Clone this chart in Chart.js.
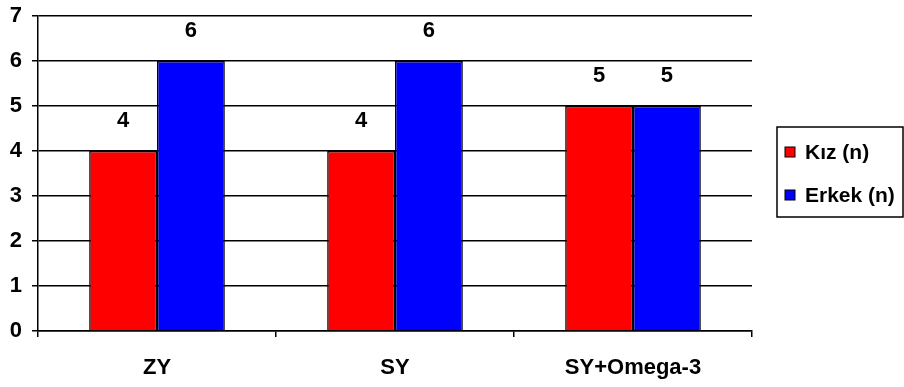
<!DOCTYPE html>
<html>
<head>
<meta charset="utf-8">
<script src="https://cdn.jsdelivr.net/npm/chart.js@4"></script>
<style>
  html, body { margin: 0; padding: 0; background: #fff; }
</style>
</head>
<body>
<canvas id="chart" width="904" height="387"></canvas>
<script>
const categories = ['ZY', 'SY', 'SY+Omega-3'];
const kizValues = [4, 4, 5];
const erkekValues = [6, 6, 5];
const yTicks = [0, 1, 2, 3, 4, 5, 6, 7];

const FONT = 'Liberation Sans, Arial, sans-serif';

// value labels above the bars
const valueLabels = {
  id: 'valueLabels',
  afterDatasetsDraw(chart) {
    const ctx = chart.ctx;
    ctx.save();
    ctx.font = 'bold 22px ' + FONT;
    ctx.fillStyle = '#000';
    ctx.textAlign = 'center';
    ctx.textBaseline = 'middle';
    chart.data.datasets.forEach((ds, i) => {
      chart.getDatasetMeta(i).data.forEach((bar, j) => {
        ctx.fillText(String(ds.data[j]), bar.x, bar.y - 30);
      });
    });
    ctx.restore();
  }
};

// boxed legend on the right
const boxLegend = {
  id: 'boxLegend',
  afterDraw(chart) {
    const ctx = chart.ctx;
    ctx.save();
    ctx.strokeStyle = '#000';
    ctx.lineWidth = 1.5;
    ctx.strokeRect(777, 127, 126, 90);
    ctx.font = 'bold 21px ' + FONT;
    ctx.textBaseline = 'middle';
    ctx.textAlign = 'left';
    chart.data.datasets.forEach((ds, i) => {
      const y = 152 + i * 43;
      ctx.fillStyle = ds.backgroundColor;
      ctx.fillRect(785, y - 5, 10, 10);
      ctx.lineWidth = 1;
      ctx.strokeRect(785, y - 5, 10, 10);
      ctx.fillStyle = '#000';
      ctx.fillText(ds.label, 805, y + 1);
    });
    ctx.restore();
  }
};

new Chart(document.getElementById('chart'), {
  type: 'bar',
  data: {
    labels: categories,
    datasets: [
      { label: 'Kız (n)', data: kizValues, backgroundColor: '#ff0000', borderColor: '#000', borderWidth: 1.5 },
      { label: 'Erkek (n)', data: erkekValues, backgroundColor: '#0000ff', borderColor: '#000', borderWidth: 1.5 }
    ]
  },
  options: {
    responsive: false,
    animation: false,
    layout: { padding: { top: 16, right: 152, bottom: 0, left: 0 } },
    datasets: { bar: { categoryPercentage: 0.57, barPercentage: 1 } },
    plugins: { legend: { display: false }, tooltip: { enabled: false } },
    scales: {
      x: {
        afterFit(scale) { scale.height = 56; scale.paddingLeft = 0; scale.paddingRight = 0; },
        grid: { drawOnChartArea: false, drawTicks: true, tickLength: 6, color: '#000', lineWidth: 1.5, offset: true },
        border: { color: '#000', width: 1.5 },
        ticks: { color: '#000', padding: 18, font: { family: FONT, size: 22, weight: 'bold' } }
      },
      y: {
        min: 0,
        max: 7,
        afterFit(scale) { scale.width = 38; scale.paddingTop = 0; scale.paddingBottom = 0; },
        afterBuildTicks(scale) { scale.ticks = yTicks.map(v => ({ value: v })); },
        grid: { color: '#000', lineWidth: 1.5, tickLength: 6 },
        border: { color: '#000', width: 1.5 },
        ticks: { color: '#000', padding: 10, font: { family: FONT, size: 22, weight: 'bold' } }
      }
    }
  },
  plugins: [valueLabels, boxLegend]
});
</script>
</body>
</html>
